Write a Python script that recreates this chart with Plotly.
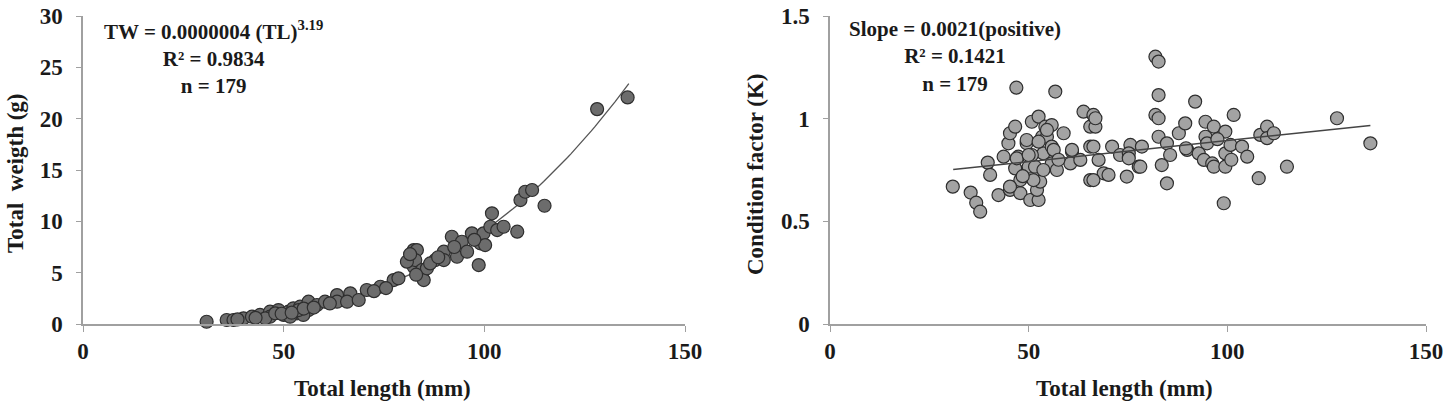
import numpy as np
import plotly.graph_objects as go

# ---- Left panel: total length (mm) vs total weight (g) ----
tl_w = [30.8, 35.8, 37.5, 40.0, 42.1, 44.1, 46.6, 46.6, 48.7, 50.0, 51.2, 52.4, 53.3, 54.1,
        56.2, 56.2, 58.3, 60.3, 63.3, 63.3, 66.6, 65.8, 68.7, 70.7, 45.4, 47.9, 51.6, 54.9,
        53.7, 38.5, 43.0, 49.5, 52.0, 55.0, 57.5, 61.5, 74.1, 77.4, 78.6, 82.4, 83.2, 82.4,
        82.8, 84.5, 84.9, 85.7, 87.8, 89.9, 89.9, 91.9, 93.2, 94.4, 95.7, 96.9, 98.6, 99.0,
        99.8, 100.2, 101.5, 101.9, 103.2, 104.8, 108.2, 109.0, 110.2, 111.9, 80.7, 115.0,
        128.1, 135.7, 72.5, 75.5, 81.5, 86.5, 92.5, 97.5, 83.0, 88.5]
tw = [0.22, 0.39, 0.39, 0.55, 0.71, 0.88, 1.20, 0.71, 1.36, 0.88, 1.20, 1.53, 1.04, 1.69,
      2.17, 1.36, 1.85, 2.17, 2.82, 2.17, 2.99, 2.17, 2.34, 3.31, 0.55, 1.04, 0.71, 0.88,
      1.36, 0.45, 0.60, 1.00, 1.10, 1.50, 1.60, 2.00, 3.63, 4.28, 4.45, 7.20, 7.20, 5.58,
      6.23, 5.26, 4.28, 5.42, 6.23, 7.04, 6.23, 8.50, 6.55, 8.01, 7.04, 8.83, 5.74, 7.86,
      8.83, 7.69, 9.47, 10.78, 9.15, 9.47, 8.99, 12.07, 12.88, 13.05, 6.07, 11.52,
      20.93, 22.07, 3.20, 3.50, 6.80, 5.90, 7.50, 8.20, 4.80, 6.50]

# ---- Right panel: total length (mm) vs condition factor K ----
tl_k = [30.9, 35.4, 36.8, 37.8, 39.7, 40.3, 42.4, 43.7, 44.9, 45.3, 46.6, 46.9, 45.3, 47.9,
        47.4, 46.6, 47.9, 49.5, 50.8, 52.5, 50.4, 52.5, 52.1, 52.9, 50.0, 51.6, 53.7, 50.8,
        53.4, 54.6, 54.2, 55.8, 55.8, 56.7, 55.8, 57.1, 58.8, 60.9, 60.5, 63.0, 63.8, 65.5,
        65.5, 65.5, 47.0, 51.2, 53.7, 56.3, 57.5, 49.5, 52.5, 54.6, 48.5, 50.0, 45.3,
        66.3, 66.8, 66.3, 67.6, 68.9, 66.3, 71.0, 73.0, 74.7, 75.6, 77.7, 78.5, 75.2, 81.9,
        82.7, 82.7, 81.9, 82.7, 82.7, 84.8, 85.6, 83.5, 84.8, 87.8, 89.4, 89.9, 91.9, 92.8,
        94.5, 94.5, 94.1, 96.2, 96.6, 96.6, 94.9, 99.1, 99.5, 99.5, 99.5, 100.8, 101.6,
        103.7, 105.0, 107.9, 108.3, 110.0, 110.0, 111.7, 115.0, 127.6, 136.0,
        66.8, 60.9, 75.2, 78.1, 70.1, 89.6, 97.5, 101.0]
k = [0.669, 0.640, 0.591, 0.547, 0.786, 0.726, 0.628, 0.815, 0.880, 0.929, 0.961, 1.151,
     0.653, 0.637, 0.815, 0.758, 0.701, 0.880, 0.985, 1.010, 0.604, 0.604, 0.653, 0.693,
     0.766, 0.766, 0.831, 0.823, 0.912, 0.912, 0.961, 0.864, 0.782, 1.132, 0.969, 0.750,
     0.929, 0.839, 0.782, 0.799, 1.034, 0.701, 0.961, 0.864, 0.807, 0.701, 0.750, 0.848,
     0.800, 0.896, 0.888, 0.945, 0.720, 0.823, 0.669,
     1.018, 0.961, 0.864, 0.799, 0.734, 0.701, 0.864, 0.823, 0.718, 0.872, 0.766, 0.864,
     0.831, 1.302, 1.278, 1.115, 1.018, 1.002, 0.912, 0.880, 0.823, 0.774, 0.685, 0.929,
     0.977, 0.848, 1.083, 0.831, 0.985, 0.912, 0.799, 0.782, 0.961, 0.766, 0.880, 0.588,
     0.937, 0.831, 0.766, 0.872, 1.018, 0.864, 0.815, 0.710, 0.921, 0.961, 0.905, 0.929,
     0.766, 1.002, 0.880,
     1.002, 0.848, 0.807, 0.766, 0.726, 0.856, 0.900, 0.800]

# linear trendline of K as drawn in the reference (end points)
k_fit_tl = [31.0, 136.0]
k_fit_k = [0.752, 0.967]

x_ticks = [0, 50, 100, 150]
tw_ticks = [0, 5, 10, 15, 20, 25, 30]
k_ticks = [0, 0.5, 1, 1.5]

left_text = "TW = 0.0000004 (TL)<sup>3.19</sup><br>R² = 0.9834<br>n = 179"
right_text = "Slope = 0.0021(positive)<br>R² = 0.1421<br>n = 179"

# ---- power fit of weight on length (log-log least squares) ----
lx = np.log(np.array(tl_w)); ly = np.log(np.array(tw))
b, a = np.polyfit(lx, ly, 1)
xc = np.linspace(35, 136, 120)
yc = np.exp(a) * xc ** b

FONT = "Liberation Serif"
TXT = "#1a1a1a"
W, H = 1452, 407

fig = go.Figure()
fig.add_trace(go.Scatter(x=xc, y=yc, mode="lines", line=dict(color="#555555", width=1.3),
                         xaxis="x", yaxis="y", showlegend=False, hoverinfo="skip"))
fig.add_trace(go.Scatter(x=tl_w, y=tw, mode="markers",
                         marker=dict(size=13, color="#6c6c6c", line=dict(color="#2e2e2e", width=1.2)),
                         xaxis="x", yaxis="y", showlegend=False, cliponaxis=False))
fig.add_trace(go.Scatter(x=tl_k, y=k, mode="markers",
                         marker=dict(size=13, color="#a3a3a3", line=dict(color="#2e2e2e", width=1.2)),
                         xaxis="x2", yaxis="y2", showlegend=False, cliponaxis=False))
fig.add_trace(go.Scatter(x=k_fit_tl, y=k_fit_k, mode="lines", line=dict(color="#444444", width=1.5),
                         xaxis="x2", yaxis="y2", showlegend=False, hoverinfo="skip"))

def px_x(p):
    return p / W

def px_y(p):
    return 1 - p / H

axis_common = dict(showgrid=False, zeroline=False, showline=True, linecolor="#a0a0a0",
                   linewidth=1.5, ticks="outside", tickcolor="#a0a0a0", tickwidth=1.3,
                   automargin=False,
                   tickfont=dict(family=FONT, size=23, color=TXT, weight="bold"))

ydom = [px_y(324), px_y(16)]
fig.update_layout(
    template="none",
    width=W, height=H, margin=dict(l=0, r=0, t=0, b=0, autoexpand=False),
    paper_bgcolor="white", plot_bgcolor="white",
    xaxis=dict(domain=[px_x(83), px_x(685)], range=[0, 150], tickvals=x_ticks, ticklen=6,
               ticklabelstandoff=0, anchor="y", **axis_common),
    yaxis=dict(domain=ydom, range=[0, 30], tickvals=tw_ticks, ticklen=5,
               ticklabelstandoff=9, anchor="x", **axis_common),
    xaxis2=dict(domain=[px_x(830), px_x(1426)], range=[0, 150], tickvals=x_ticks, ticklen=6,
                ticklabelstandoff=0, anchor="y2", **axis_common),
    yaxis2=dict(domain=ydom, range=[0, 1.5], tickvals=k_ticks, ticklen=5,
                ticklabelstandoff=9, anchor="x2", **axis_common),
)

ann_font = dict(family=FONT, size=21, color=TXT, weight="bold")
title_font = dict(family=FONT, size=23, color=TXT, weight="bold")
annotations = [
    dict(text=left_text, x=px_x(213), y=px_y(15), xref="paper", yref="paper", showarrow=False,
         font=ann_font, xanchor="center", yanchor="top", align="center"),
    dict(text=right_text, x=px_x(955), y=px_y(15), xref="paper", yref="paper", showarrow=False,
         font=ann_font, xanchor="center", yanchor="top", align="center"),
    dict(text="Total length (mm)", x=px_x(383), y=px_y(388), xref="paper", yref="paper",
         showarrow=False, font=title_font, xanchor="center", yanchor="middle"),
    dict(text="Total length (mm)", x=px_x(1124), y=px_y(388), xref="paper", yref="paper",
         showarrow=False, font=title_font, xanchor="center", yanchor="middle"),
    dict(text="Total  weigth (g)", x=px_x(15), y=px_y(173), xref="paper", yref="paper",
         showarrow=False, font=title_font, textangle=-90, xanchor="center", yanchor="middle"),
    dict(text="Condition factor (K)", x=px_x(755), y=px_y(174), xref="paper", yref="paper",
         showarrow=False, font=title_font, textangle=-90, xanchor="center", yanchor="middle"),
]
fig.update_layout(annotations=annotations)

fig.write_html("out.html")
